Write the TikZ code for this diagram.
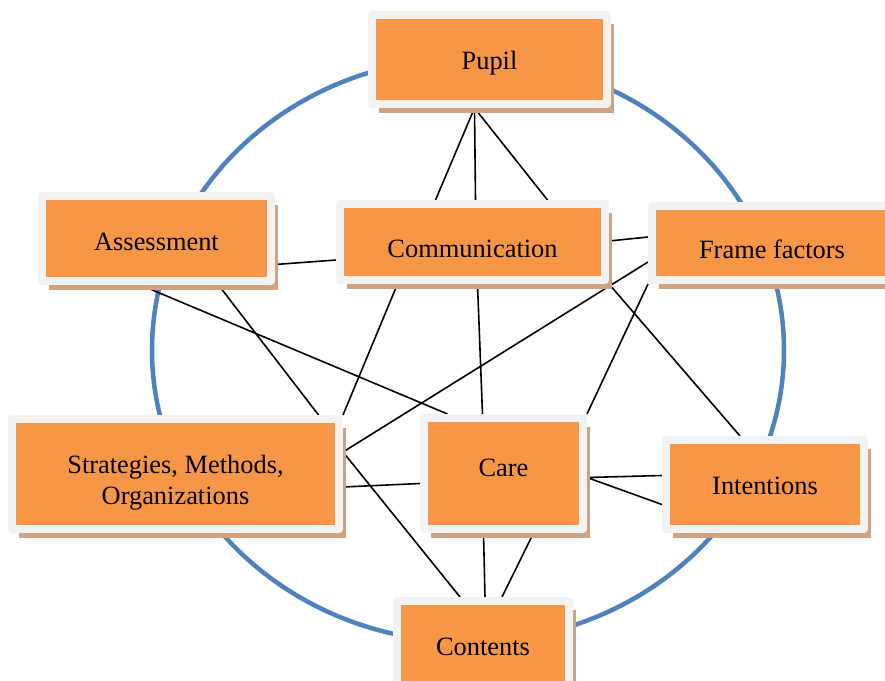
\documentclass[tikz,border=0pt]{standalone}
\usepackage{fontspec}
\setmainfont{Liberation Serif}
\usetikzlibrary{calc,shadows,backgrounds}
\definecolor{boxorange}{RGB}{247,150,70}
\definecolor{boxframe}{RGB}{242,242,242}
\definecolor{boxshadow}{RGB}{207,163,130}
\definecolor{ringblue}{RGB}{79,129,189}
\begin{document}
\begin{tikzpicture}[x=.5pt,y=-.5pt,line join=round,line cap=round,
	factor/.style={draw=boxframe,line width=4pt,fill=boxorange,inner sep=0pt,align=center,
		font=\fontsize{13.2}{15.2}\selectfont,
		drop shadow={shadow xshift=3.5pt,shadow yshift=-4.5pt,fill=boxshadow,opacity=1}},
	tx/.style={text height=#1,text depth=0pt},
	link/.style={line width=.8pt,black}]
	\useasboundingbox (0,0) rectangle (885,681);
	\clip (0,0) rectangle (885,681);
	% the eight factors
	\node[factor,tx=10pt,minimum width=117.5pt,minimum height=44.5pt](pupil) at (489.5,59.5){Pupil};
	\node[factor,tx=12pt,minimum width=114.5pt,minimum height=42.5pt](assess) at (156.5,238.5){Assessment};
	\node[factor,tx=15.5pt,minimum width=132.5pt,minimum height=38pt](comm) at (472.5,242){Communication};
	\node[factor,tx=15pt,minimum width=120pt,minimum height=37pt](frame) at (772,243){Frame factors};
	\node[factor,text height=33pt,text depth=2.8pt,minimum width=163.5pt,minimum height=55pt](strat) at (175.5,474){Strategies, Methods,\\Organizations};
	\node[factor,tx=3pt,minimum width=79.5pt,minimum height=55.5pt](care) at (503.5,473.5){Care};
	\node[factor,tx=10pt,minimum width=99pt,minimum height=44.5pt](intent) at (765,484.5){Intentions};
	\node[factor,tx=8pt,minimum width=86pt,minimum height=46pt](contents) at (483,647){Contents};
	\begin{scope}[on background layer]
	\draw[ringblue,line width=2.25pt] (468,350) ellipse [x radius=316,y radius=292];
	\draw[link] ($(pupil.south)+(-15,0)$)--($(comm.north)+(-37,0)$)
		($(pupil.south)+(-15,0)$)--($(comm.north)+(3,0)$)
		($(pupil.south)+(-15,0)$)--($(comm.north)+(75,0)$)
		($(assess.east)+(0,26)$)--($(comm.west)+(0,18)$)
		($(comm.east)+(0,-1)$)--($(frame.west)+(0,-6)$)
		($(assess.south)+(-16,0)$)--($(care.north)+(-56,0)$)
		($(assess.south)+(62,0)$)--($(strat.north)+(143,0)$)
		($(comm.south)+(-75,0)$)--(strat.north east)
		($(comm.south)+(5,0)$)--($(care.north)+(-21,0)$)
		(comm.south east)--($(intent.north)+(-25,0)$)
		($(frame.west)+(0,19)$)--($(strat.east)+(0,-22)$)
		(frame.south west)--(care.north east)
		($(strat.east)+(0,13)$)--($(care.west)+(0,10)$)
		($(care.east)+(0,4)$)--($(intent.west)+(0,-9)$)
		($(care.east)+(0,4)$)--($(intent.west)+(0,20)$)
		($(care.south)+(-20,0)$)--($(contents.north)+(2,0)$)
		($(care.south)+(30,0)$)--($(contents.north)+(19,0)$)
		($(strat.east)+(0,-22)$)--($(contents.north)+(-23,0)$);
	\end{scope}
\end{tikzpicture}
\end{document}
